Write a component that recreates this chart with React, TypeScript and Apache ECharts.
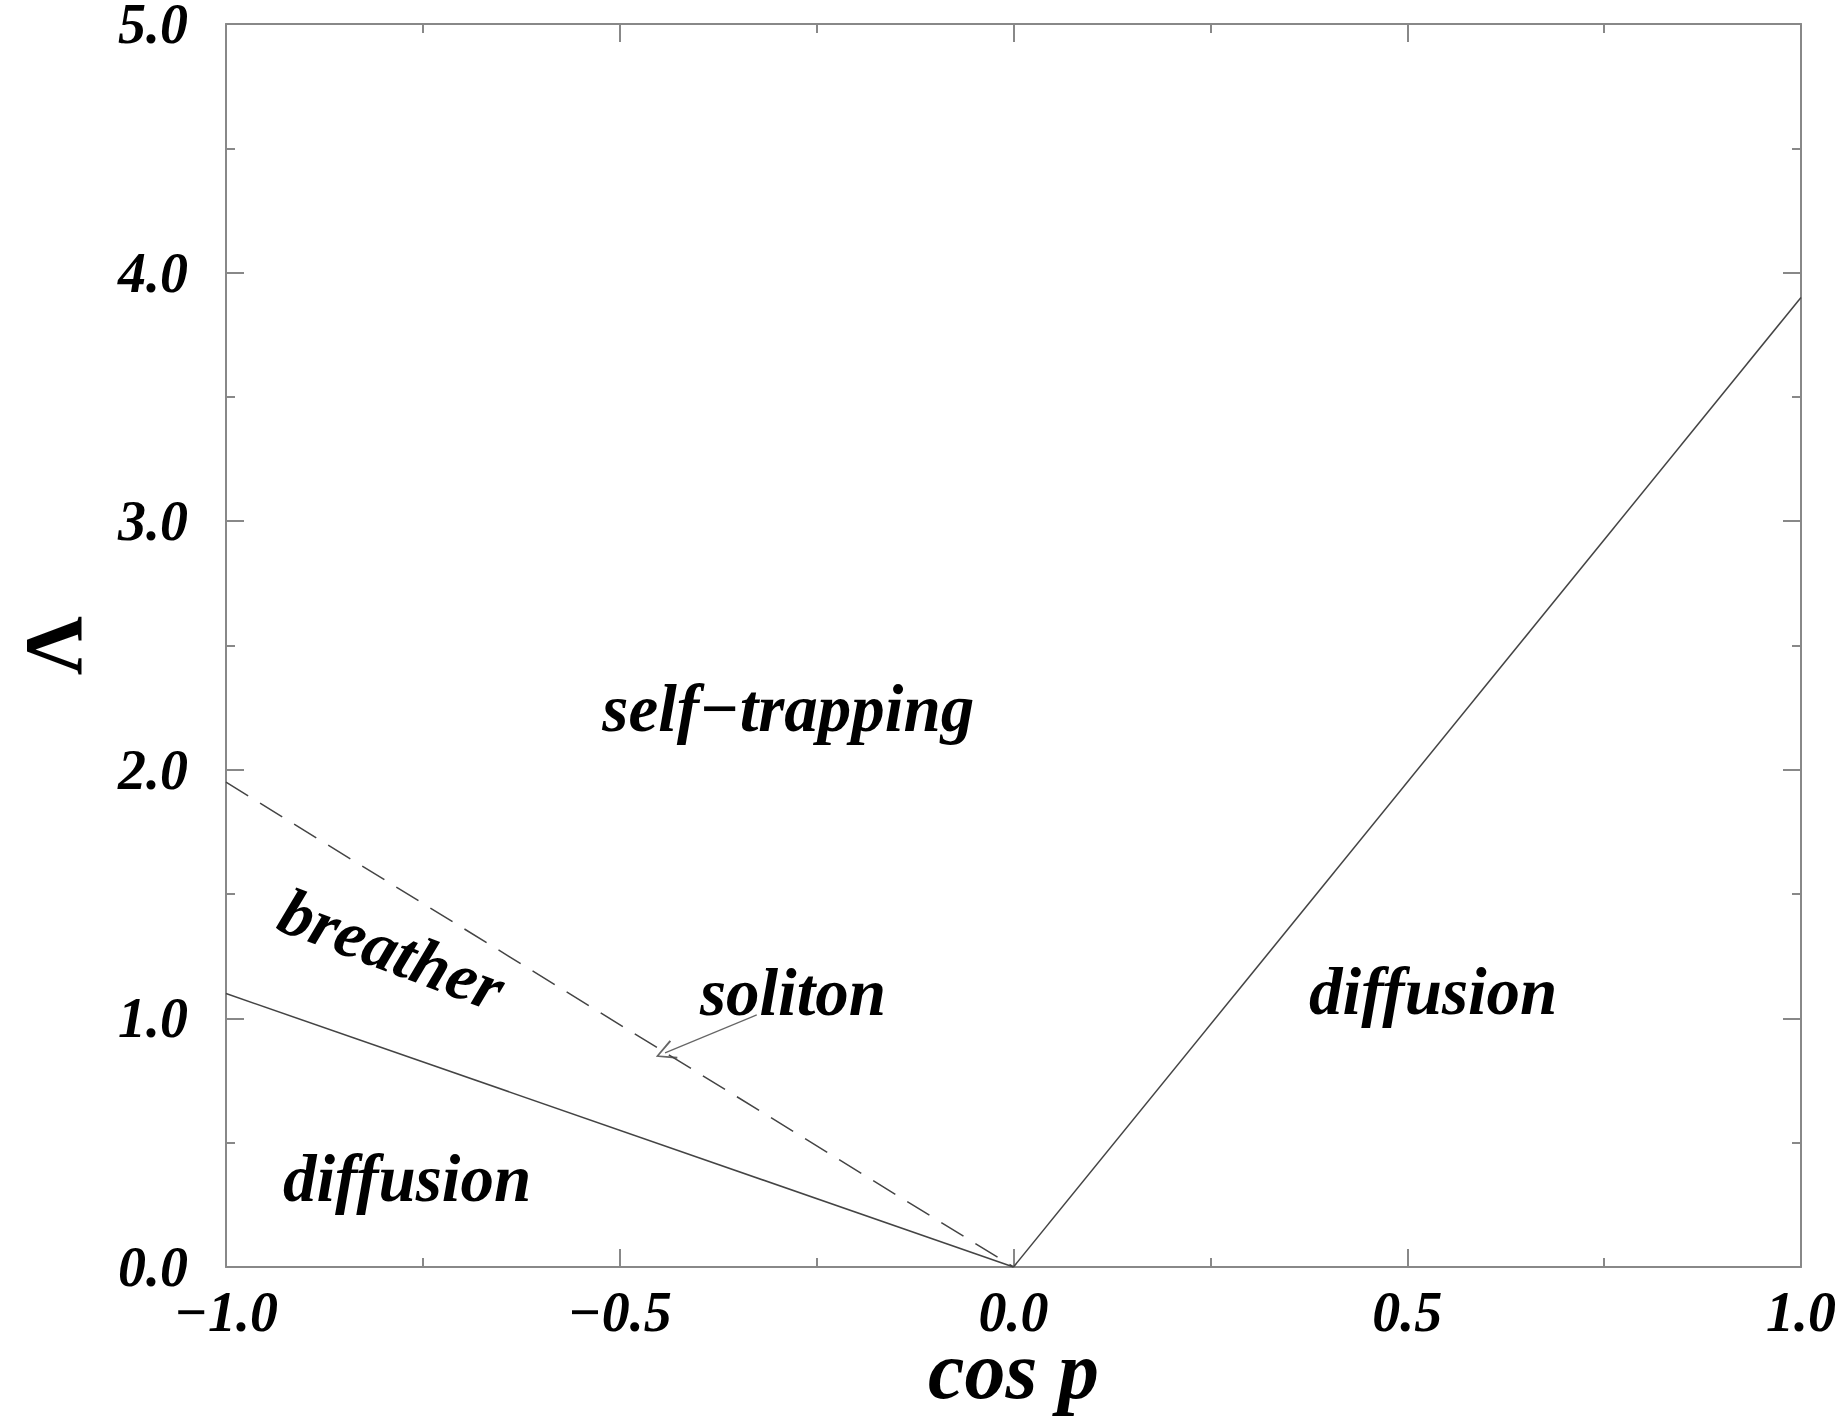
import React, { useEffect, useRef } from "react";
import * as echarts from "echarts";

// Axis ranges / ticks
const xTicks = [-1.0, -0.5, 0.0, 0.5, 1.0];
const yTicks = [0.0, 1.0, 2.0, 3.0, 4.0, 5.0];

// Phase boundaries (cos p, Lambda)
const breatherBoundary = [[-1.0, 1.1], [0.0, 0.0]];
const solitonBoundary = [[-1.0, 1.95], [0.0, 0.0]];
const diffusionBoundary = [[0.0, 0.0], [1.0, 3.9]];

// Arrow from "soliton" label to dashed line
const solitonArrow = [[-0.326, 1.014], [-0.4425, 0.861]];

// Region labels: [x, y, text, rotation(deg)]
const regionLabels: [number, number, string, number][] = [
  [-0.286, 2.249, "self\u2212trapping", 0],
  [-0.789, 1.279, "breather", -20.8],
  [-0.28, 1.106, "soliton", 0],
  [-0.77, 0.358, "diffusion", 0],
  [0.533, 1.11, "diffusion", 0],
];

const FONT = "'Liberation Serif', 'Times New Roman', serif";
const AXIS_COLOR = "#888888";
const LINE_COLOR = "#444444";

const fmt = (v: number) => v.toFixed(1).replace("-", "\u2212");

export default function App() {
  const ref = useRef<HTMLDivElement>(null);
  useEffect(() => {
    if (!ref.current) return;
    const chart = echarts.init(ref.current, undefined, { renderer: "svg" });
    const axisLine = { show: true, onZero: false, lineStyle: { color: AXIS_COLOR, width: 2 } };
    const tickLabel = {
      fontFamily: FONT,
      fontWeight: "bold" as const,
      fontStyle: "italic" as const,
      fontSize: 56,
      lineHeight: 44,
      color: "#000",
    };
    const common = {
      axisLine,
      axisTick: { show: true, inside: true, length: 18, lineStyle: { color: AXIS_COLOR, width: 2 } },
      minorTick: { show: true, splitNumber: 2, length: 9, lineStyle: { color: AXIS_COLOR, width: 2 } },
      splitLine: { show: false },
      minorSplitLine: { show: false },
    };
    chart.setOption({
      animation: false,
      backgroundColor: "#ffffff",
      grid: {
        left: 226,
        right: 42,
        top: 24,
        bottom: 151,
        containLabel: false,
        outerBoundsMode: "none",
      },
      xAxis: [
        {
          type: "value",
          position: "bottom",
          min: xTicks[0],
          max: xTicks[xTicks.length - 1],
          interval: 0.5,
          ...common,
          axisLabel: { ...tickLabel, margin: 23, formatter: (v: number) => fmt(v) },
          name: "cos p",
          nameLocation: "middle",
          nameGap: 62,
          nameMoveOverlap: false,
          nameTextStyle: {
            fontFamily: FONT,
            fontWeight: "bold",
            fontStyle: "italic",
            fontSize: 82,
            lineHeight: 82,
            color: "#000",
          },
        },
        {
          type: "value",
          position: "top",
          min: xTicks[0],
          max: xTicks[xTicks.length - 1],
          interval: 0.5,
          ...common,
          axisLabel: { show: false },
        },
      ],
      yAxis: [
        {
          type: "value",
          position: "left",
          min: yTicks[0],
          max: yTicks[yTicks.length - 1],
          interval: 1,
          ...common,
          axisLabel: { ...tickLabel, margin: 38, formatter: (v: number) => fmt(v) },
          name: "\u039B",
          nameLocation: "middle",
          nameRotate: 90,
          nameGap: 132,
          nameMoveOverlap: false,
          nameTextStyle: { fontFamily: FONT, fontWeight: "bold", fontSize: 82, lineHeight: 82, color: "#000" },
        },
        {
          type: "value",
          position: "right",
          min: yTicks[0],
          max: yTicks[yTicks.length - 1],
          interval: 1,
          ...common,
          axisLabel: { show: false },
        },
      ],
      series: [
        {
          type: "line",
          data: breatherBoundary,
          showSymbol: false,
          lineStyle: { color: LINE_COLOR, width: 1.5 },
        },
        {
          type: "line",
          data: solitonBoundary,
          showSymbol: false,
          lineStyle: { color: LINE_COLOR, width: 1.5, type: [26, 14] },
        },
        {
          type: "line",
          data: diffusionBoundary,
          showSymbol: false,
          lineStyle: { color: LINE_COLOR, width: 1.5 },
        },
        {
          type: "lines",
          coordinateSystem: "cartesian2d",
          symbol: ["none", "path://M5,0 L10,10 L9.1,10.5 L5,1.8 L0.9,10.5 L0,10 Z"],
          symbolSize: [16, 20],
          lineStyle: { color: "#666666", width: 1.3, opacity: 1 },
          data: [{ coords: solitonArrow }],
        },
        {
          type: "scatter",
          symbolSize: 0,
          silent: true,
          itemStyle: { opacity: 1 },
          data: regionLabels.map(([x, y, t, r]) => ({
            value: [x, y],
            name: t,
            label: { rotate: r },
          })),
          label: {
            show: true,
            position: "inside",
            formatter: (p: any) => p.name,
            fontFamily: FONT,
            fontWeight: "bold",
            fontStyle: "italic",
            fontSize: 67,
            color: "#000000",
            opacity: 1,
            align: "center",
            verticalAlign: "middle",
          },
        },
      ],
    });
    return () => chart.dispose();
  }, []);
  return (
    <div
      ref={ref}
      style={{ position: "fixed", left: 0, top: 0, width: 1843, height: 1418, background: "#fff" }}
    />
  );
}
